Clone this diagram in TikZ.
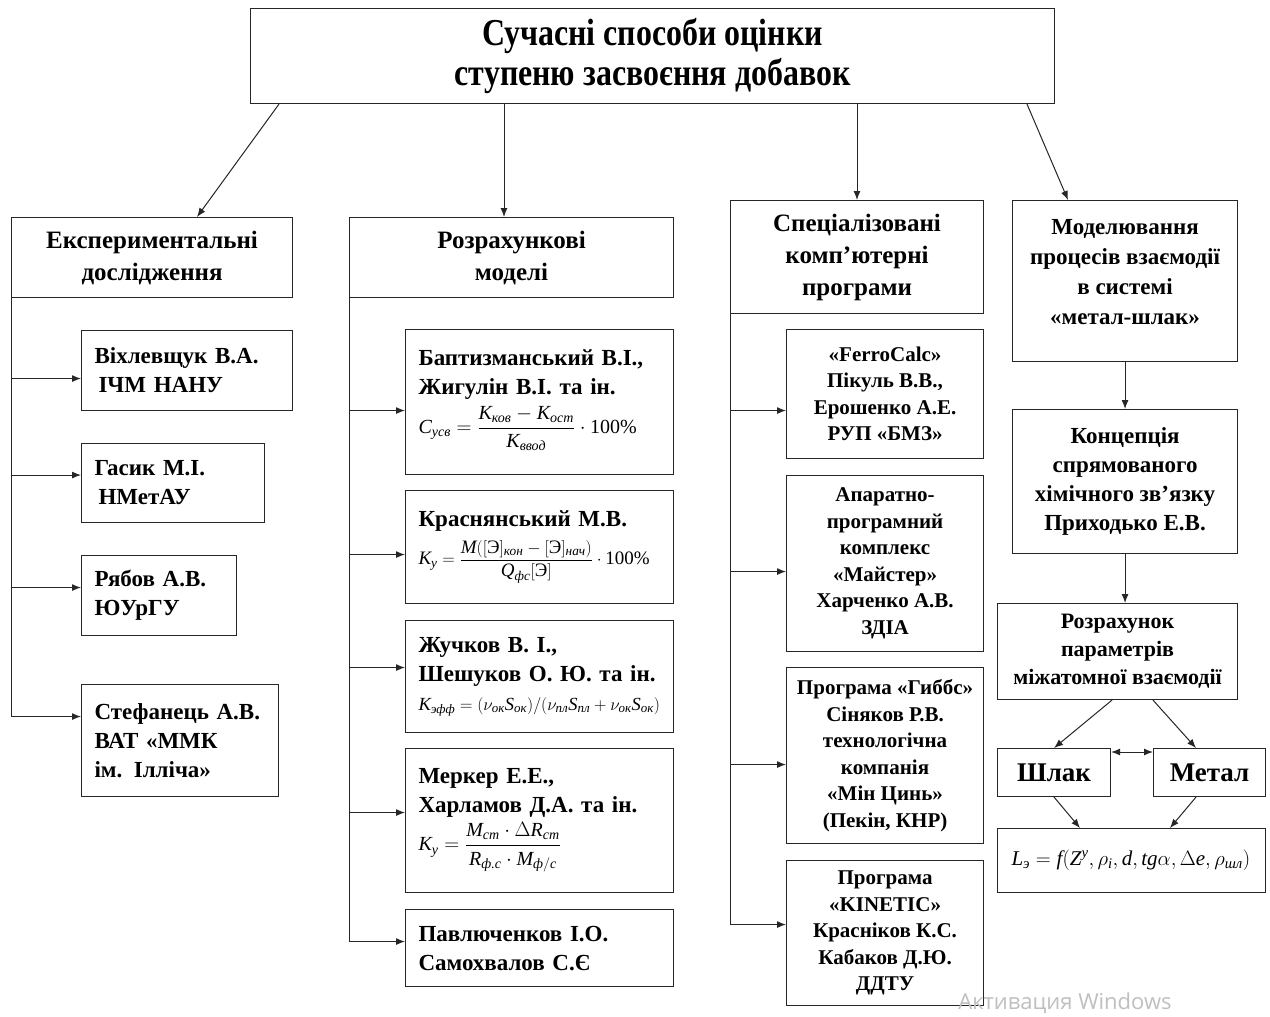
\documentclass[tikz,border=0pt]{standalone}
\usepackage{amsmath}
\usepackage{fontspec}
\setmainfont{Liberation Serif}
\newfontfamily\titlefont[FakeStretch=0.84]{Liberation Serif}
\newfontfamily\wmfont{Open Sans}
\usetikzlibrary{arrows.meta}
\newcommand{\mi}[1]{\text{\normalfont\itshape #1}}
\newcommand{\mup}[1]{\text{\normalfont #1}}
\newcommand{\fml}[2]{\mbox{\fontsize{#1}{23}\selectfont #2}}
\tikzset{
  frame/.style={draw=black!85, line width=1.1pt, anchor=north west, inner ysep=0pt},
  ttl/.style={frame, align=center, font={\titlefont\bfseries\fontsize{38}{40}\selectfont}},
  hdr/.style={frame, align=center, inner xsep=0pt, font={\bfseries\fontsize{25}{32}\selectfont}},
  lbox/.style={frame, align=left, inner xsep=13pt, font={\bfseries\fontsize{23}{29}\selectfont}},
  pbox/.style={frame, align=center, inner xsep=0pt, font={\bfseries\fontsize{21}{26.5}\selectfont}},
  rbox/.style={frame, align=center, inner xsep=0pt, font={\bfseries\fontsize{23}{30}\selectfont}},
  arr/.style={draw=black!85, line width=1pt, -{Latex[length=9pt,width=7pt]}},
  ln/.style={draw=black!85, line width=1pt}
}
\begin{document}
\begin{tikzpicture}[x=1pt,y=-1pt]
\fill[white] (0,0) rectangle (1270,1017);
\useasboundingbox (0,0) rectangle (1270,1017);

% title
\node[ttl, minimum width=804pt, minimum height=95pt] (t) at (250,8) {Сучасні способи оцінки\\ступеню засвоєння добавок};

% headers
\node[hdr, minimum width=281pt, minimum height=80pt] (h1) at (11,217) {Експериментальні\\дослідження};
\node[hdr, minimum width=324pt, minimum height=80pt] (h2) at (349,217) {Розрахункові\\моделі};
\node[hdr, minimum width=253pt, minimum height=113pt] (h3) at (730,200) {Спеціалізовані\\комп’ютерні\\програми};
\node[rbox, minimum width=225pt, minimum height=161pt] (h4) at (1012,200) {Моделювання\\процесів взаємодії\\в системі\\«метал-шлак»\\[-12pt]\mbox{}};

% column 1
\node[lbox, text width=185pt, minimum height=80pt] (v1) at (81,330) {\mbox{Віхлевщук В.А.}\\\hspace*{4pt}ІЧМ НАНУ};
\node[lbox, text width=157pt, minimum height=79pt] (v2) at (81,443) {Гасик М.І.\\\hspace*{4pt}НМетАУ};
\node[lbox, text width=129pt, minimum height=80pt] (v3) at (81,555) {Рябов А.В.\\ЮУрГУ};
\node[lbox, text width=171pt, minimum height=112pt] (v4) at (81,684) {\mbox{Стефанець А.В.}\\ВАТ «ММК\\ім. Ілліча»};

% column 2
\node[lbox, text width=242pt, minimum height=145pt] (m1) at (405,329) {\mbox{Баптизманський В.І.,}\\Жигулін В.І. та ін.\\[6pt]
 \fml{20}{$\displaystyle \mi{C}_{\mi{усв}} = \frac{\mi{K}_{\mi{ков}} - \mi{K}_{\mi{ост}}}{\mi{K}_{\mi{ввод}}}\cdot\mup{100\%}$}\\[-8pt]\mbox{}};
\node[lbox, text width=242pt, minimum height=113pt] (m2) at (405,490) {Краснянський М.В.\\[8pt]
 \fml{19}{$\displaystyle \mi{K}_{\mi{у}} = \frac{\mi{M}([\mup{Э}]_{\mi{кон}} - [\mup{Э}]_{\mi{нач}})}{\mi{Q}_{\mi{фс}}[\mup{Э}]}\cdot\mup{100\%}$}};
\node[lbox, text width=242pt, minimum height=112pt] (m3) at (405,620) {Жучков В. І.,\\\mbox{Шешуков О. Ю. та ін.}\\
 \fml{18.5}{$\mi{K}_{\mi{эфф}} = (\nu_{\mi{ок}}\mi{S}_{\mi{ок}})/(\nu_{\mi{пл}}\mi{S}_{\mi{пл}} + \nu_{\mi{ок}}\mi{S}_{\mi{ок}})$}};
\node[lbox, text width=242pt, minimum height=144pt] (m4) at (405,748) {Меркер Е.Е.,\\\mbox{Харламов Д.А. та ін.}\\[4pt]
 \fml{20}{$\displaystyle \mi{K}_{\mi{у}} = \frac{\mi{M}_{\mi{ст}}\cdot\Delta\mi{R}_{\mi{ст}}}{\mi{R}_{\mi{ф.с}}\cdot\mi{M}_{\mi{ф}/\mi{с}}}$}};
\node[lbox, text width=242pt, minimum height=77pt] (m5) at (405,909) {Павлюченков І.О.\\Самохвалов С.Є};

% column 3
\node[pbox, minimum width=197pt, minimum height=129pt] (p1) at (786,329) {«FerroCalc»\\Пікуль В.В.,\\Ерошенко А.Е.\\РУП «БМЗ»};
\node[pbox, minimum width=197pt, minimum height=176pt] (p2) at (786,475) {Апаратно-\\програмний\\комплекс\\«Майстер»\\Харченко А.В.\\ЗДІА};
\node[pbox, minimum width=197pt, minimum height=176pt] (p3) at (786,667) {Програма «Гиббс»\\Сіняков Р.В.\\технологічна\\компанія\\«Мін Цинь»\\(Пекін, КНР)};
\node[pbox, minimum width=197pt, minimum height=145pt] (p4) at (786,860) {Програма\\«KINETIC»\\Красніков К.С.\\Кабаков Д.Ю.\\ДДТУ};

% column 4
\node[rbox, font={\bfseries\fontsize{23}{29}\selectfont}, minimum width=225pt, minimum height=144pt] (c1) at (1012,409) {Концепція\\спрямованого\\хімічного зв’язку\\Приходько Е.В.};
\node[rbox, font={\bfseries\fontsize{22}{28}\selectfont}, minimum width=240pt, minimum height=96pt] (c2) at (997,603) {Розрахунок\\параметрів\\міжатомної взаємодії};
\node[rbox, font={\bfseries\fontsize{27}{30}\selectfont}, minimum width=113pt, minimum height=48pt] (sl) at (997,748) {Шлак};
\node[rbox, font={\bfseries\fontsize{27}{30}\selectfont}, minimum width=112pt, minimum height=48pt] (mt) at (1153,748) {Метал};
\node[frame, align=left, inner xsep=14pt, text width=240pt, minimum height=64pt, font={\fontsize{21}{24}\selectfont}] (fm) at (997,828)
 {\mbox{$\mi{L}_{\mi{э}} = \mi{f}(\mi{Z}^{\mi{y}}, \rho_{\mi{i}}, \mi{d}, \mi{tg}\alpha, \Delta\mi{e}, \rho_{\mi{шл}})$}\\[12pt]};

% title connectors
\draw[arr] ([xshift=29pt]t.south west) -- ([xshift=186pt]h1.north west);
\draw[arr] ([xshift=155pt]h2.north west |- t.south) -- ([xshift=155pt]h2.north west);
\draw[arr] ([xshift=127pt]h3.north west |- t.south) -- ([xshift=127pt]h3.north west);
\draw[arr] ([xshift=777pt]t.south west) -- ([xshift=56pt]h4.north west);

% column 1 connectors
\coordinate (e1) at ([yshift=-8pt]v1.west);
\coordinate (e2) at ([yshift=8pt]v2.west);
\coordinate (e3) at ([yshift=8pt]v3.west);
\coordinate (e4) at ([yshift=24pt]v4.west);
\draw[ln] (h1.south west) -- (h1.south west |- e4);
\foreach \e in {e1,e2,e3,e4} \draw[arr] (h1.south west |- \e) -- (\e);

% column 2 connectors
\coordinate (f1) at ([yshift=-8.5pt]m1.west);
\coordinate (f2) at ([yshift=-7.5pt]m2.west);
\coordinate (f3) at ([yshift=9pt]m3.west);
\coordinate (f4) at ([yshift=8pt]m4.west);
\coordinate (f5) at ([yshift=6.5pt]m5.west);
\draw[ln] (h2.south west) -- (h2.south west |- f5);
\foreach \e in {f1,f2,f3,f4,f5} \draw[arr] (h2.south west |- \e) -- (\e);

% column 3 connectors
\coordinate (g1) at ([yshift=-16.5pt]p1.west);
\coordinate (g2) at ([yshift=-8pt]p2.west);
\coordinate (g3) at ([yshift=-9pt]p3.west);
\coordinate (g4) at ([yshift=8.5pt]p4.west);
\draw[ln] (h3.south west) -- (h3.south west |- g4);
\foreach \e in {g1,g2,g3,g4} \draw[arr] (h3.south west |- \e) -- (\e);

% column 4 connectors
\draw[arr] (h4.south) -- (c1.north);
\draw[arr] (c1.south) -- (c1.south |- c2.north);
\draw[arr] ([xshift=115pt]c2.south west) -- (sl.north);
\draw[arr] ([xshift=156pt]c2.south west) -- ([xshift=43pt]mt.north west);
\draw[arr, {Latex[length=9pt,width=7pt]}-{Latex[length=9pt,width=7pt]}] ([yshift=-4pt]sl.north east) -- ([yshift=-4pt]mt.north west);
\draw[arr] (sl.south) -- ([xshift=83pt]fm.north west);
\draw[arr] ([xshift=43pt]mt.south west) -- ([xshift=173pt]fm.north west);

% watermark
\node[text=black!25, font={\wmfont\fontsize{22}{24}\selectfont}] (wm) at (1065,1003) {Активация Windows};
\end{tikzpicture}
\end{document}
